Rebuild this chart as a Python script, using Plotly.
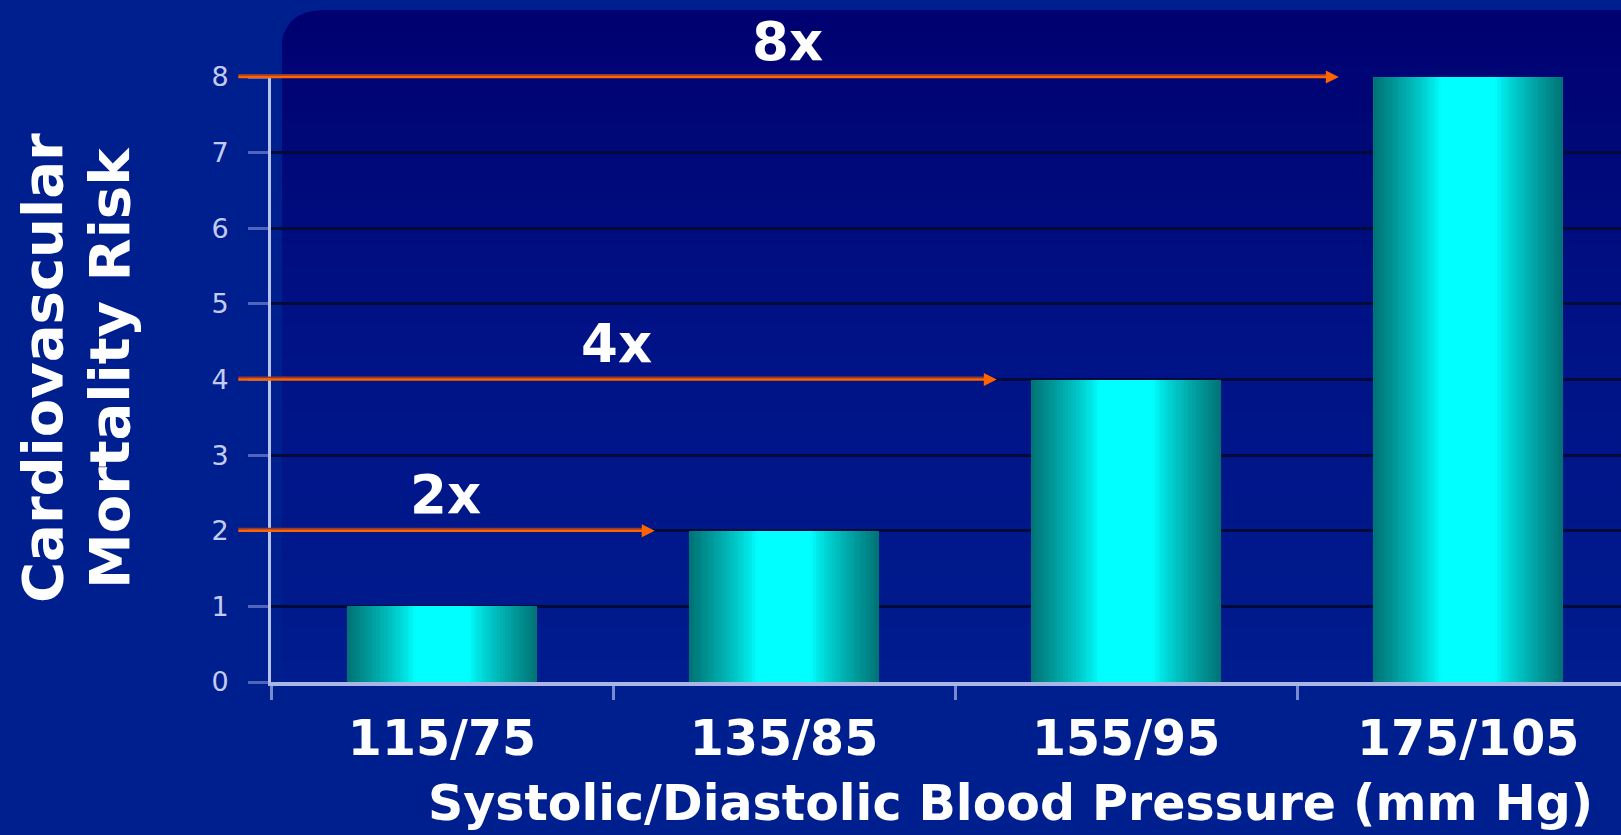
import plotly.graph_objects as go

# ---- data -------------------------------------------------------------
categories = ["115/75", "135/85", "155/95", "175/105"]
risk = [1, 2, 4, 8]
y_ticks = [0, 1, 2, 3, 4, 5, 6, 7, 8]

# ---- geometry / style -------------------------------------------------
W, H = 1621, 835
M_L, M_R, M_T, M_B = 271, 0, 77, 153
PLOT_W = W - M_L - M_R
PLOT_H = H - M_T - M_B

BG = "#001f8f"
FONT = "DejaVu Sans"
BAR_W = 0.556
ARROW_TAIL = -0.6          # arrows start just left of the value axis
ARROW_GAP = 0.1            # gap between arrow head and the target bar


def px_x(px):
    """horizontal pixel -> paper fraction"""
    return (px - M_L) / PLOT_W


def px_y(py):
    """vertical pixel (from top) -> paper fraction"""
    return (H - M_B - py) / PLOT_H


def lerp(c0, c1, t):
    return tuple(round(a + (b - a) * t) for a, b in zip(c0, c1))


def rgb(c):
    return "rgb(%d,%d,%d)" % c


fig = go.Figure()

# ---- bars: stacked overlays of shrinking width give a cylinder shading --
N_LAYERS = 36
EDGE = (0, 116, 118)
CORE = (0, 255, 255)
for k in range(N_LAYERS):
    frac = 1 - k / N_LAYERS
    t = min(max((frac - 0.3) / 0.7, 0.0), 1.0) ** 0.8
    fig.add_trace(go.Bar(
        x=categories, y=risk, width=[BAR_W * frac] * len(categories),
        marker=dict(color=rgb(lerp(CORE, EDGE, t)), line=dict(width=0)),
        showlegend=False, hoverinfo="skip" if k else "x+y",
    ))

# ---- background panel with vertical gradient and rounded top-left corner --
panel_x0 = px_x(282)
panel_top = px_y(10)
stops = [(10, (0, 0, 112)), (150, (0, 8, 120)), (330, (0, 18, 134)),
         (682, (0, 28, 142))]
shapes = []
N_BANDS = 60
for b in range(N_BANDS):
    ytop = 10 + (682 - 10) * b / N_BANDS
    ybot = 10 + (682 - 10) * (b + 1) / N_BANDS
    ym = (ytop + ybot) / 2
    for (ya, ca), (yb, cb) in zip(stops[:-1], stops[1:]):
        if ya <= ym <= yb:
            col = lerp(ca, cb, (ym - ya) / (yb - ya))
            break
    shapes.append(dict(type="rect", xref="paper", yref="paper",
                       x0=panel_x0, x1=1.0, y0=px_y(ybot + 0.6), y1=px_y(ytop),
                       fillcolor=rgb(col), line=dict(width=0), layer="below"))
r = 42
cx0, cy0 = panel_x0, panel_top
rx, ry = r / PLOT_W, r / PLOT_H
shapes.append(dict(
    type="path", xref="paper", yref="paper", layer="below",
    path=f"M {cx0 - 0.001},{cy0 - ry} Q {cx0},{cy0} {cx0 + rx},{cy0} "
         f"L {cx0 + rx},{cy0 + 0.01} L {cx0 - 0.001},{cy0 + 0.01} Z",
    fillcolor=BG, line=dict(width=0)))

# ---- arrows and multiplier labels --------------------------------------
annotations = []
for i in range(1, len(risk)):
    head = i - BAR_W / 2 - ARROW_GAP
    ratio = risk[i] / risk[0]
    annotations.append(dict(
        x=head - 0.02, y=risk[i], ax=ARROW_TAIL, ay=risk[i],
        xref="x", yref="y", axref="x", ayref="y", yshift=2,
        text="", showarrow=True, arrowhead=0, arrowwidth=2,
        arrowcolor="#903b36"))
    annotations.append(dict(
        x=head, y=risk[i], ax=ARROW_TAIL, ay=risk[i],
        xref="x", yref="y", axref="x", ayref="y",
        text="", showarrow=True, arrowhead=2, arrowsize=1.0,
        arrowwidth=2.6, arrowcolor="#ff6400"))
    annotations.append(dict(
        x=(ARROW_TAIL + head) / 2, y=risk[i], xref="x", yref="y",
        text=f"{ratio:g}x", showarrow=False, yshift=36,
        xanchor="center", yanchor="middle",
        font=dict(family=FONT, size=53, color="white", weight="bold")))

# ---- axis titles -------------------------------------------------------
title_font = dict(family=FONT, size=56, color="white", weight="bold")
annotations += [
    dict(x=px_x(42), y=px_y(368), xref="paper", yref="paper",
         xanchor="center", yanchor="middle",
         text="Cardiovascular", textangle=-90, showarrow=False,
         font=title_font),
    dict(x=px_x(109), y=px_y(368), xref="paper", yref="paper",
         xanchor="center", yanchor="middle",
         text="Mortality Risk", textangle=-90, showarrow=False,
         font=title_font),
    dict(x=px_x(1010), y=px_y(803), xref="paper", yref="paper",
         xanchor="center", yanchor="middle",
         text="Systolic/Diastolic Blood Pressure (mm Hg)", showarrow=False,
         font=dict(family=FONT, size=49, color="white", weight="bold")),
]

fig.update_layout(
    width=W, height=H, autosize=False,
    margin=dict(l=M_L, r=M_R, t=M_T, b=M_B, pad=0),
    paper_bgcolor=BG, plot_bgcolor="rgba(0,0,0,0)",
    barmode="overlay", bargap=0, showlegend=False,
    shapes=shapes, annotations=annotations,
    xaxis=dict(
        type="category", range=[-0.5, 3.447], tickson="boundaries",
        ticks="outside", ticklen=14, tickwidth=3, tickcolor="#7a8ad0",
        showline=True, linewidth=4, linecolor="#a9b6e6",
        showgrid=False, zeroline=False,
        tickfont=dict(family=FONT, size=49, color="white", weight="bold"),
        ticklabelstandoff=10,
    ),
    yaxis=dict(
        range=[0, 8], tickvals=y_ticks, ticks="outside", ticklen=20,
        tickwidth=3, tickcolor="#4f64bc",
        showline=True, linewidth=3, linecolor="#b9c1e6",
        showgrid=True, gridcolor="#020a3a", gridwidth=3, zeroline=False,
        tickfont=dict(family=FONT, size=27, color="#c3cbef"),
        ticklabelstandoff=14,
    ),
)

fig.write_html("out.html")
